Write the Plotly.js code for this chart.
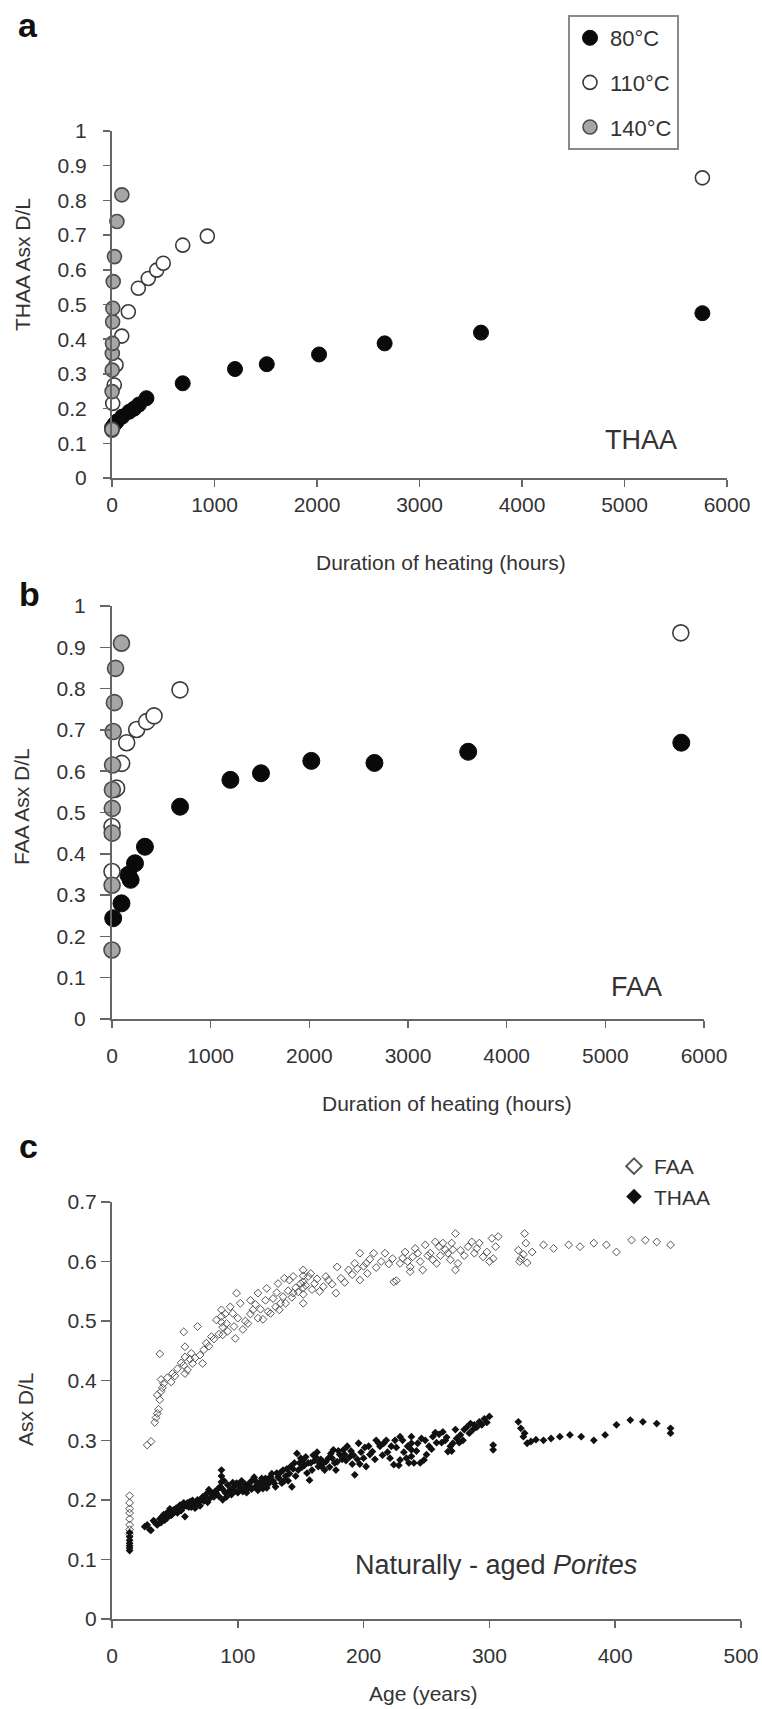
<!DOCTYPE html>
<html><head><meta charset="utf-8">
<script src="https://cdn.plot.ly/plotly-3.0.1.min.js"></script>
<style>html,body{margin:0;padding:0;background:#fff}</style>
</head><body><div id="chart" style="width:762px;height:1709px"></div>
<script>
// ---------- Panel a : THAA, heating experiments ----------
const a80Hours  = [0, 24, 48, 100, 168, 216, 264, 336, 690, 1200, 1510, 2020, 2660, 3600, 5760];
const a80DL     = [0.145, 0.155, 0.163, 0.177, 0.191, 0.200, 0.212, 0.230, 0.273, 0.314, 0.328, 0.356, 0.388, 0.419, 0.475];
const a110Hours = [0, 7, 22, 39, 95, 159, 257, 354, 436, 500, 690, 930, 5760];
const a110DL    = [0.138, 0.215, 0.268, 0.326, 0.409, 0.479, 0.547, 0.575, 0.599, 0.619, 0.671, 0.697, 0.865];
const a140Hours = [0, 1, 2, 3, 4, 6, 8, 12, 24, 48, 96];
const a140DL    = [0.140, 0.249, 0.311, 0.359, 0.388, 0.450, 0.489, 0.566, 0.638, 0.739, 0.816];

// ---------- Panel b : FAA, heating experiments ----------
const b80Hours  = [12, 96, 165, 189, 233, 334, 690, 1200, 1510, 2020, 2660, 3610, 5770];
const b80DL     = [0.244, 0.280, 0.349, 0.337, 0.377, 0.417, 0.514, 0.579, 0.595, 0.625, 0.620, 0.647, 0.669];
const b110Hours = [0, 0, 30, 47, 98, 149, 250, 351, 426, 689, 5765];
const b110DL    = [0.357, 0.466, 0.556, 0.559, 0.619, 0.669, 0.701, 0.720, 0.734, 0.797, 0.935];
const b140Hours = [0, 1, 2, 3, 4, 6, 12, 24, 36, 96];
const b140DL    = [0.167, 0.324, 0.450, 0.510, 0.555, 0.615, 0.696, 0.766, 0.849, 0.910];

// ---------- Panel c : naturally-aged Porites ----------
const faaAge = [14,14,14,14,14,14,14,14,28,31,34,35,36,37,38,36,39,40,39,41,38,44,47,48,50,52,55,57,57,58,58,58,60,62,63,64,66,68,70,72,73,75,77,79,81,83,85,87,87,87,88,88,90,91,92,94,96,97,98,99,100,102,104,106,108,110,110,112,114,116,116,118,120,122,123,124,126,128,130,131,132,133,134,136,137,138,140,141,143,144,144,146,148,150,152,152,152,152,152,152,154,156,158,159,161,163,165,168,170,172,175,178,179,182,185,188,191,193,195,197,197,200,202,203,205,208,210,214,217,220,223,224,226,229,231,233,235,237,237,239,241,243,245,247,249,251,253,255,257,258,260,261,263,265,267,269,270,271,273,273,275,277,280,283,286,288,290,292,295,298,300,302,303,305,307,323,324,325,327,328,329,330,334,343,351,363,372,383,393,401,413,424,433,444];
const faaDL  = [0.207,0.195,0.185,0.178,0.168,0.158,0.150,0.142,0.292,0.298,0.330,0.338,0.345,0.352,0.368,0.376,0.382,0.388,0.402,0.395,0.445,0.405,0.398,0.412,0.408,0.420,0.430,0.482,0.426,0.457,0.440,0.412,0.418,0.436,0.446,0.429,0.438,0.491,0.443,0.429,0.452,0.463,0.458,0.474,0.470,0.502,0.478,0.519,0.508,0.498,0.490,0.477,0.512,0.496,0.483,0.524,0.513,0.491,0.471,0.547,0.505,0.530,0.486,0.500,0.496,0.535,0.512,0.519,0.528,0.505,0.547,0.520,0.503,0.535,0.555,0.516,0.513,0.538,0.524,0.548,0.563,0.519,0.530,0.541,0.572,0.530,0.551,0.569,0.540,0.575,0.547,0.556,0.549,0.563,0.586,0.576,0.566,0.556,0.545,0.530,0.560,0.575,0.580,0.553,0.563,0.571,0.550,0.558,0.575,0.569,0.562,0.547,0.591,0.572,0.565,0.586,0.578,0.597,0.588,0.614,0.569,0.592,0.597,0.580,0.604,0.614,0.590,0.600,0.614,0.596,0.605,0.566,0.568,0.597,0.606,0.616,0.600,0.591,0.583,0.608,0.622,0.614,0.600,0.586,0.628,0.610,0.614,0.603,0.633,0.597,0.625,0.610,0.631,0.620,0.614,0.603,0.631,0.620,0.647,0.586,0.597,0.619,0.610,0.625,0.633,0.614,0.622,0.631,0.608,0.616,0.600,0.639,0.605,0.625,0.642,0.619,0.600,0.605,0.612,0.647,0.631,0.598,0.616,0.628,0.622,0.628,0.625,0.631,0.628,0.616,0.636,0.636,0.633,0.628];
const thaaAge = [14,14,14,14,14,14,14,26,28,30,31,33,34,36,38,40,42,43,45,47,49,51,52,54,56,58,59,60,62,63,65,67,68,70,72,73,75,77,78,80,82,83,85,86,87,87,87,88,88,90,92,94,95,97,99,100,102,104,106,108,110,112,114,116,118,120,122,124,126,128,130,131,133,135,136,138,140,142,143,145,147,148,150,152,153,155,157,158,160,162,164,166,168,169,172,174,176,178,179,181,184,186,189,191,193,196,198,200,202,204,207,210,213,216,219,221,224,226,229,229,232,235,238,238,238,238,240,243,246,248,249,252,255,258,260,263,265,267,269,271,274,277,280,282,285,288,292,296,300,303,303,323,325,327,328,330,333,337,343,349,356,364,373,383,392,401,412,422,433,444,444,
  35,39,41,44,46,48,50,53,55,57,61,64,66,69,71,74,76,79,81,84,89,91,93,96,98,101,103,105,107,109,111,113,115,117,119,121,123,125,127,129,132,134,137,139,141,144,146,149,151,154,156,159,161,163,165,167,170,173,175,177,180,183,185,187,190,192,195,197,201,205,209,212,215,218,222,225,228,231,234,236,242,245,250,254,257,262,266,270,273,276,279,284,287,290,294,298];
const thaaDL  = [0.145,0.138,0.132,0.127,0.123,0.119,0.115,0.155,0.158,0.150,0.149,0.165,0.163,0.158,0.168,0.172,0.166,0.177,0.180,0.174,0.183,0.186,0.178,0.191,0.186,0.172,0.190,0.195,0.197,0.188,0.192,0.194,0.200,0.190,0.205,0.198,0.210,0.217,0.203,0.208,0.214,0.211,0.206,0.222,0.250,0.240,0.230,0.200,0.218,0.212,0.225,0.217,0.209,0.222,0.228,0.212,0.220,0.214,0.226,0.219,0.230,0.233,0.222,0.216,0.229,0.219,0.236,0.226,0.239,0.232,0.222,0.245,0.236,0.228,0.250,0.240,0.232,0.256,0.222,0.262,0.278,0.250,0.270,0.267,0.258,0.245,0.233,0.262,0.275,0.272,0.256,0.268,0.262,0.250,0.270,0.278,0.284,0.250,0.264,0.276,0.284,0.266,0.272,0.260,0.242,0.295,0.280,0.270,0.256,0.290,0.281,0.300,0.290,0.295,0.280,0.270,0.259,0.288,0.267,0.306,0.280,0.290,0.306,0.295,0.284,0.273,0.262,0.295,0.303,0.267,0.300,0.290,0.306,0.296,0.310,0.314,0.300,0.281,0.290,0.295,0.303,0.309,0.318,0.322,0.328,0.326,0.331,0.336,0.340,0.284,0.292,0.331,0.320,0.306,0.312,0.295,0.298,0.301,0.300,0.303,0.306,0.309,0.306,0.300,0.309,0.326,0.334,0.331,0.328,0.320,0.312,
  0.160,0.162,0.175,0.170,0.185,0.176,0.180,0.188,0.182,0.195,0.188,0.199,0.186,0.196,0.201,0.204,0.196,0.212,0.205,0.218,0.232,0.205,0.213,0.229,0.215,0.226,0.232,0.221,0.212,0.225,0.218,0.238,0.230,0.224,0.236,0.228,0.220,0.232,0.244,0.228,0.238,0.246,0.232,0.252,0.244,0.252,0.240,0.262,0.255,0.272,0.262,0.250,0.266,0.280,0.262,0.255,0.264,0.255,0.270,0.262,0.282,0.268,0.276,0.290,0.282,0.275,0.268,0.260,0.288,0.276,0.268,0.295,0.275,0.300,0.290,0.300,0.258,0.300,0.270,0.262,0.282,0.262,0.276,0.285,0.313,0.296,0.305,0.282,0.318,0.296,0.300,0.312,0.318,0.322,0.326,0.330];

// ---------- geometry helpers (pixel -> paper) ----------
const W = 762, H = 1709;
const fx = p => p / W;
const fy = p => 1 - p / H;

const FONT = 'Liberation Sans, Arial, sans-serif';
const TXT = '#333333';
const AX = '#666666';

function axis(extra) {
  return Object.assign({
    showline: true, linecolor: AX, linewidth: 2,
    ticks: 'outside', ticklen: 7, tickwidth: 1.5, tickcolor: AX,
    showgrid: false, zeroline: false, fixedrange: true,
    tickfont: {family: FONT, size: 21, color: TXT}
  }, extra);
}

const circ80  = {symbol: 'circle', color: '#0a0a0a', line: {color: '#0a0a0a', width: 1}};
const circ110 = {symbol: 'circle', color: '#ffffff', line: {color: '#3a3a3a', width: 1.6}};
const circ140 = {symbol: 'circle', color: '#a6a6a6', line: {color: '#4a4a4a', width: 1.6}};

const traces = [
  {x: a80Hours,  y: a80DL,  xaxis: 'x',  yaxis: 'y',  type: 'scatter', mode: 'markers', name: '80°C',  legendgroup: 'g80',  marker: Object.assign({size: 15}, circ80), cliponaxis: false},
  {x: a110Hours, y: a110DL, xaxis: 'x',  yaxis: 'y',  type: 'scatter', mode: 'markers', name: '110°C', legendgroup: 'g110', marker: Object.assign({size: 14}, circ110), cliponaxis: false},
  {x: a140Hours, y: a140DL, xaxis: 'x',  yaxis: 'y',  type: 'scatter', mode: 'markers', name: '140°C', legendgroup: 'g140', marker: Object.assign({size: 14}, circ140), cliponaxis: false},
  {x: b80Hours,  y: b80DL,  xaxis: 'x2', yaxis: 'y2', type: 'scatter', mode: 'markers', name: '80°C',  showlegend: false, marker: Object.assign({size: 17}, circ80), cliponaxis: false},
  {x: b110Hours, y: b110DL, xaxis: 'x2', yaxis: 'y2', type: 'scatter', mode: 'markers', name: '110°C', showlegend: false, marker: Object.assign({size: 16}, circ110), cliponaxis: false},
  {x: b140Hours, y: b140DL, xaxis: 'x2', yaxis: 'y2', type: 'scatter', mode: 'markers', name: '140°C', showlegend: false, marker: Object.assign({size: 16}, circ140), cliponaxis: false},
  {x: faaAge,  y: faaDL,  xaxis: 'x3', yaxis: 'y3', type: 'scatter', mode: 'markers', name: 'FAA',  legend: 'legend2',
   marker: {symbol: 'diamond-open', size: 6, color: '#555555', line: {width: 1}}, cliponaxis: false},
  {x: thaaAge, y: thaaDL, xaxis: 'x3', yaxis: 'y3', type: 'scatter', mode: 'markers', name: 'THAA', legend: 'legend2',
   marker: {symbol: 'diamond', size: 6, color: '#111111', line: {width: 0}}, cliponaxis: false}
];

function ann(text, px, py, size, extra) {
  return Object.assign({text: text, xref: 'paper', yref: 'paper', x: fx(px), y: fy(py),
    xanchor: 'center', yanchor: 'middle', showarrow: false,
    font: {family: FONT, size: size, color: TXT}}, extra || {});
}

const layout = {
  width: W, height: H,
  margin: {l: 0, r: 0, t: 0, b: 0},
  paper_bgcolor: '#ffffff', plot_bgcolor: '#ffffff',
  font: {family: FONT, color: TXT},
  showlegend: true,
  xaxis:  axis({domain: [fx(112), fx(727)], range: [0, 6000], dtick: 1000, anchor: 'y', ticklabelstandoff: 0}),
  yaxis:  axis({domain: [fy(478), fy(131)], range: [0, 1], dtick: 0.1, anchor: 'x', ticklabelstandoff: 12}),
  xaxis2: axis({domain: [fx(112), fx(704)], range: [0, 6000], dtick: 1000, anchor: 'y2', ticklabelstandoff: 10}),
  yaxis2: axis({domain: [fy(1019), fy(606)], range: [0, 1], dtick: 0.1, anchor: 'x2', ticklen: 10, ticklabelstandoff: 10}),
  xaxis3: axis({domain: [fx(112), fx(741)], range: [0, 500], dtick: 100, anchor: 'y3', ticklabelstandoff: 10}),
  yaxis3: axis({domain: [fy(1619), fy(1202)], range: [0, 0.7], dtick: 0.1, anchor: 'x3', ticklen: 9, ticklabelstandoff: 0}),
  legend: {x: fx(568), y: fy(15), xanchor: 'left', yanchor: 'top',
    bordercolor: '#8a8a8a', borderwidth: 2, bgcolor: '#ffffff',
    font: {family: FONT, size: 22, color: TXT}, traceorder: 'grouped', tracegroupgap: 13},
  legend2: {x: fx(614), y: fy(1146), xanchor: 'left', yanchor: 'top',
    borderwidth: 0, bgcolor: 'rgba(0,0,0,0)', itemsizing: 'constant',
    font: {family: FONT, size: 21, color: TXT}},
  annotations: [
    ann('<b>a</b>', 28, 25, 34, {font: {family: FONT, size: 34, color: '#111'}}),
    ann('<b>b</b>', 29, 594, 34, {font: {family: FONT, size: 34, color: '#111'}}),
    ann('<b>c</b>', 28, 1146, 34, {font: {family: FONT, size: 34, color: '#111'}}),
    ann('THAA Asx D/L', 22, 265, 21, {textangle: -90}),
    ann('FAA Asx D/L', 22, 807, 21, {textangle: -90}),
    ann('Asx D/L', 25, 1409, 21, {textangle: -90}),
    ann('Duration of heating (hours)', 441, 562, 21),
    ann('Duration of heating (hours)', 447, 1103, 21),
    ann('Age (years)', 423, 1693, 21),
    ann('THAA', 641, 440, 27),
    ann('FAA', 636, 987, 27),
    ann('Naturally - aged <i>Porites</i>', 496, 1565, 27)
  ]
};

Plotly.newPlot('chart', traces, layout, {staticPlot: true, displayModeBar: false});
</script></body></html>
